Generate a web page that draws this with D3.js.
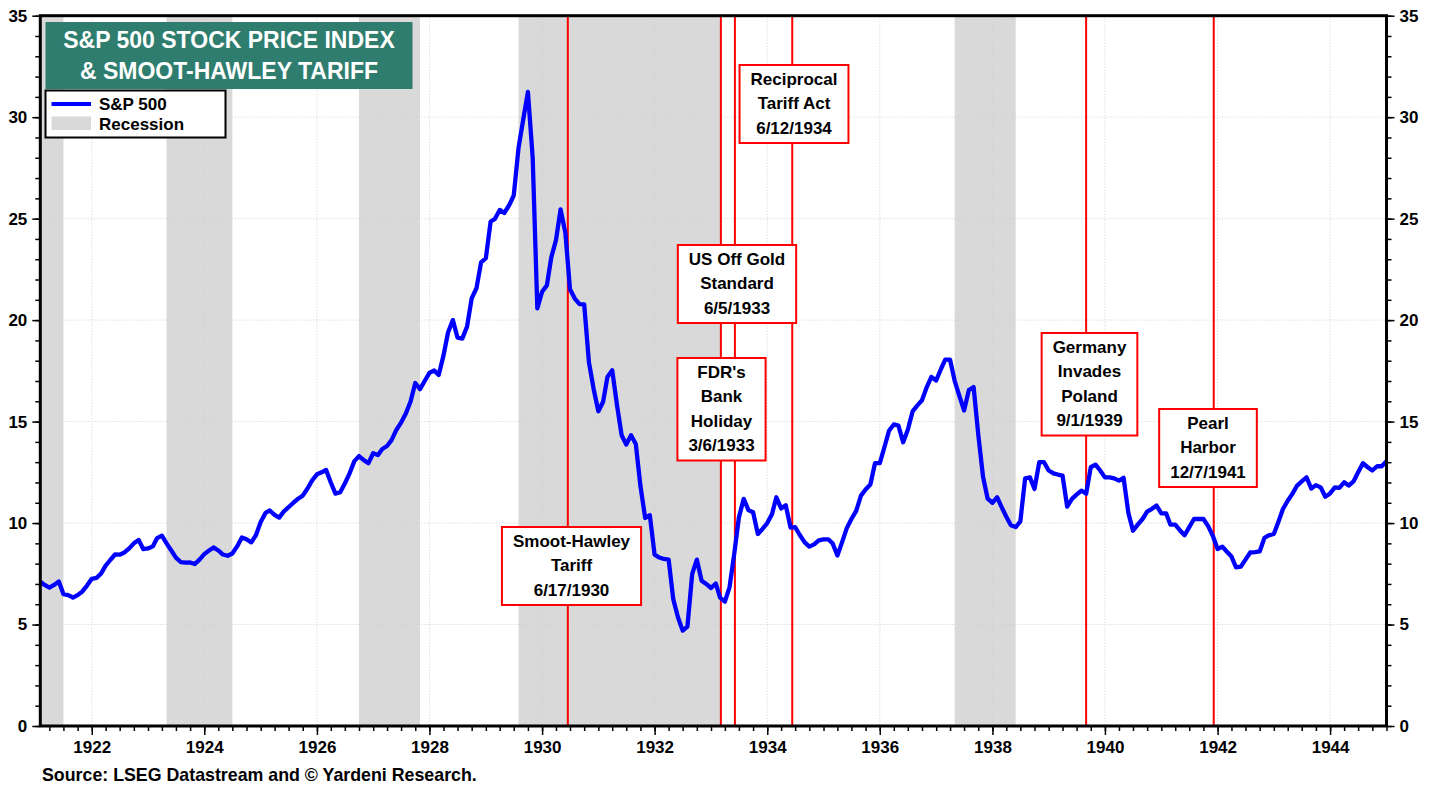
<!DOCTYPE html>
<html>
<head>
<meta charset="utf-8">
<script src="https://cdn.jsdelivr.net/npm/d3@7"></script>
<style>
  body { margin: 0; background: #fff; }
  svg text { font-family: "Liberation Sans", Arial, sans-serif; font-weight: bold; }
</style>
</head>
<body>
<svg id="chart" width="1439" height="789"></svg>
<script>
// monthly S&P 500 (Jan 1921 .. Dec 1944), plotted at month end
const spx = [
  7.11, 6.95, 6.82, 6.95, 7.12, 6.50, 6.45, 6.33, 6.45, 6.63, 6.92, 7.25,
  7.30, 7.50, 7.90, 8.18, 8.45, 8.44, 8.55, 8.75, 9.00, 9.17, 8.72, 8.75,
  8.85, 9.26, 9.38, 9.00, 8.65, 8.30, 8.08, 8.05, 8.06, 7.98, 8.20, 8.47,
  8.65, 8.80, 8.65, 8.45, 8.39, 8.50, 8.85, 9.29, 9.20, 9.05, 9.40, 10.05,
  10.50, 10.62, 10.40, 10.27, 10.58, 10.78, 11.00, 11.20, 11.35, 11.70, 12.10, 12.40,
  12.50, 12.62, 12.00, 11.45, 11.52, 11.95, 12.45, 13.05, 13.30, 13.10, 12.95, 13.44,
  13.35, 13.65, 13.80, 14.10, 14.60, 14.95, 15.40, 16.00, 16.90, 16.60, 17.00, 17.40,
  17.52, 17.30, 18.25, 19.40, 20.00, 19.14, 19.09, 19.68, 21.07, 21.57, 22.85, 23.05,
  24.86, 24.99, 25.43, 25.28, 25.66, 26.14, 28.48, 29.90, 31.25, 27.99, 20.58, 21.40,
  21.71, 23.07, 23.94, 25.46, 24.30, 21.52, 21.06, 20.79, 20.78, 17.92, 16.62, 15.51,
  15.98, 17.20, 17.53, 15.86, 14.33, 13.87, 14.33, 13.90, 11.83, 10.25, 10.39, 8.44,
  8.30, 8.23, 8.20, 6.25, 5.35, 4.70, 4.90, 7.50, 8.20, 7.16, 7.00, 6.80,
  7.02, 6.33, 6.13, 6.83, 8.50, 10.28, 11.19, 10.64, 10.53, 9.46, 9.71, 10.00,
  10.45, 11.27, 10.72, 10.88, 9.78, 9.80, 9.40, 9.05, 8.84, 8.95, 9.15, 9.20,
  9.20, 9.00, 8.40, 9.05, 9.75, 10.20, 10.60, 11.35, 11.65, 11.90, 12.95, 12.95,
  13.76, 14.55, 14.86, 14.80, 13.98, 14.60, 15.50, 15.80, 16.05, 16.70, 17.20, 17.03,
  17.59, 18.05, 18.05, 17.01, 16.25, 15.55, 16.55, 16.70, 14.37, 12.28, 11.20, 11.00,
  11.27, 10.80, 10.31, 9.89, 9.80, 10.08, 12.20, 12.25, 11.68, 13.00, 13.00, 12.59,
  12.45, 12.39, 12.34, 10.81, 11.19, 11.40, 11.60, 11.44, 12.75, 12.88, 12.59, 12.25,
  12.25, 12.20, 12.09, 12.23, 10.50, 9.62, 9.92, 10.20, 10.56, 10.70, 10.86, 10.48,
  10.48, 9.92, 9.92, 9.65, 9.40, 9.80, 10.20, 10.20, 10.20, 9.85, 9.37, 8.72,
  8.84, 8.60, 8.35, 7.82, 7.85, 8.20, 8.55, 8.57, 8.60, 9.27, 9.40, 9.46,
  10.09, 10.69, 11.10, 11.44, 11.85, 12.05, 12.25, 11.70, 11.87, 11.76, 11.30, 11.46,
  11.76, 11.73, 12.01, 11.85, 12.05, 12.50, 12.95, 12.75, 12.59, 12.80, 12.80, 13.05
];

const recessions = [
  ['1920-01', '1921-07'], ['1923-05', '1924-07'], ['1926-10', '1927-11'],
  ['1929-08', '1933-03'], ['1937-05', '1938-06']
];

const events = [
  { date: '1930-06-17', lines: ['Smoot-Hawley', 'Tariff', '6/17/1930'] },
  { date: '1933-03-06', lines: ["FDR's", 'Bank', 'Holiday', '3/6/1933'] },
  { date: '1933-06-05', lines: ['US Off Gold', 'Standard', '6/5/1933'] },
  { date: '1934-06-12', lines: ['Reciprocal', 'Tariff Act', '6/12/1934'] },
  { date: '1939-09-01', lines: ['Germany', 'Invades', 'Poland', '9/1/1939'] },
  { date: '1941-12-07', lines: ['Pearl', 'Harbor', '12/7/1941'] }
];

// where each event label box sits (centre x, top y)
const boxPos = [
  { cx: 571.5, top: 527 }, { cx: 721.5, top: 358 }, { cx: 737, top: 245 },
  { cx: 794, top: 65 }, { cx: 1089.5, top: 333 }, { cx: 1208, top: 409 }
];

const yTicks = [0, 5, 10, 15, 20, 25, 30, 35];
const titleLines = ['S&P 500 STOCK PRICE INDEX', '& SMOOT-HAWLEY TARIFF'];
const legendItems = ['S&P 500', 'Recession'];
const source = 'Source: LSEG Datastream and \u00A9 Yardeni Research.';

const parseMonth = d3.timeParse('%Y-%m');
const parseDay = d3.timeParse('%Y-%m-%d');

const svg = d3.select('#chart');
const plotL = 40.3, plotR = 1386.5, plotT = 15.7, plotB = 726;

const x = d3.scaleTime()
  .domain([new Date(1921, 1, 1), new Date(1945, 0, 1)])
  .range([plotL, plotR]);
const y = d3.scaleLinear().domain([0, 35]).range([plotB, plotT]);

const series = spx.map((v, i) => ({ date: new Date(1921, i + 1, 1), value: v }));

svg.append('clipPath').attr('id', 'plot-clip')
  .append('rect')
  .attr('x', plotL).attr('y', plotT)
  .attr('width', plotR - plotL).attr('height', plotB - plotT);

const plot = svg.append('g').attr('clip-path', 'url(#plot-clip)');

// recession shading
plot.selectAll('rect.rec')
  .data(recessions)
  .enter()
  .append('rect')
  .attr('class', 'rec')
  .attr('x', d => x(parseMonth(d[0])))
  .attr('y', plotT)
  .attr('width', d => x(parseMonth(d[1])) - x(parseMonth(d[0])))
  .attr('height', plotB - plotT)
  .attr('fill', '#d9d9d9');

// dotted grid
plot.selectAll('line.hgrid')
  .data(yTicks.slice(1, -1))
  .enter()
  .append('line')
  .attr('x1', plotL).attr('x2', plotR)
  .attr('y1', d => y(d)).attr('y2', d => y(d))
  .attr('stroke', '#cfcfcf').attr('stroke-dasharray', '1,2');

plot.selectAll('line.vgrid')
  .data(x.ticks(d3.timeYear.every(2)))
  .enter()
  .append('line')
  .attr('x1', d => x(d)).attr('x2', d => x(d))
  .attr('y1', plotT).attr('y2', plotB)
  .attr('stroke', '#cfcfcf').attr('stroke-dasharray', '1,2');

// event lines
plot.selectAll('line.event')
  .data(events)
  .enter()
  .append('line')
  .attr('x1', d => x(parseDay(d.date))).attr('x2', d => x(parseDay(d.date)))
  .attr('y1', plotT).attr('y2', plotB)
  .attr('stroke', '#ff0000').attr('stroke-width', 2);

// S&P 500 line
plot.append('path')
  .datum(series)
  .attr('fill', 'none')
  .attr('stroke', '#0000ff')
  .attr('stroke-width', 4.3)
  .attr('stroke-linejoin', 'round')
  .attr('d', d3.line().x(d => x(d.date)).y(d => y(d.value)));

// event label boxes
const lineH = 24.5, padX = 11;
events.forEach((ev, i) => {
  const pos = boxPos[i];
  const g = svg.append('g');
  const rect = g.append('rect')
    .attr('fill', '#fff').attr('stroke', '#ff0000').attr('stroke-width', 2);
  const t = g.append('text')
    .attr('text-anchor', 'middle')
    .attr('font-size', 17)
    .attr('fill', '#000');
  t.selectAll('tspan')
    .data(ev.lines)
    .enter()
    .append('tspan')
    .attr('x', pos.cx)
    .attr('y', (d, j) => pos.top + 19.5 + j * lineH)
    .text(d => d);
  const w = d3.max(t.selectAll('tspan').nodes(), n => n.getComputedTextLength()) + padX * 2;
  rect.attr('x', pos.cx - w / 2).attr('y', pos.top)
    .attr('width', w).attr('height', ev.lines.length * lineH + 4.5);
});

// frame
svg.append('rect')
  .attr('x', plotL).attr('y', plotT)
  .attr('width', plotR - plotL).attr('height', plotB - plotT)
  .attr('fill', 'none').attr('stroke', '#000').attr('stroke-width', 3);

// axes
function styleAxis(g) {
  g.select('.domain').remove();
  g.selectAll('line').attr('stroke', '#000').attr('stroke-width', 1.5);
  g.selectAll('text').attr('font-size', 17).attr('fill', '#000');
}

const minorY = d3.range(0, 36);
svg.append('g').attr('transform', `translate(${plotL - 1},0)`)
  .call(d3.axisLeft(y).tickValues(minorY).tickSize(4).tickFormat(''))
  .call(styleAxis);
svg.append('g').attr('transform', `translate(${plotL - 1},0)`)
  .call(d3.axisLeft(y).tickValues(yTicks).tickSize(7).tickPadding(5).tickFormat(d3.format('d')))
  .call(styleAxis);
svg.append('g').attr('transform', `translate(${plotR + 1},0)`)
  .call(d3.axisRight(y).tickValues(minorY).tickSize(4).tickFormat(''))
  .call(styleAxis);
svg.append('g').attr('transform', `translate(${plotR + 1},0)`)
  .call(d3.axisRight(y).tickValues(yTicks).tickSize(7).tickPadding(5).tickFormat(d3.format('d')))
  .call(styleAxis);

svg.append('g').attr('transform', `translate(0,${plotB + 1})`)
  .call(d3.axisBottom(x).ticks(d3.timeMonth.every(3)).tickSize(4).tickFormat(''))
  .call(styleAxis);
svg.append('g').attr('transform', `translate(0,${plotB + 1})`)
  .call(d3.axisBottom(x).ticks(d3.timeYear.every(2)).tickSize(8).tickPadding(6).tickFormat(d3.timeFormat('%Y')))
  .call(styleAxis);

// title
svg.append('rect')
  .attr('x', 45.5).attr('y', 22).attr('width', 367).attr('height', 67)
  .attr('fill', '#2e7d6f');
svg.append('text')
  .attr('text-anchor', 'middle')
  .attr('font-size', 23)
  .attr('fill', '#fff')
  .selectAll('tspan')
  .data(titleLines)
  .enter()
  .append('tspan')
  .attr('x', 229)
  .attr('y', (d, i) => 47.5 + i * 31.5)
  .text(d => d);

// legend
const legend = svg.append('g');
legend.append('rect')
  .attr('x', 45.5).attr('y', 90.5).attr('width', 180).attr('height', 47)
  .attr('fill', '#fff').attr('stroke', '#000').attr('stroke-width', 2);
legend.append('line')
  .attr('x1', 51.5).attr('x2', 91).attr('y1', 104).attr('y2', 104)
  .attr('stroke', '#0000ff').attr('stroke-width', 4);
legend.append('rect')
  .attr('x', 51.5).attr('y', 116.5).attr('width', 39.5).attr('height', 13.5)
  .attr('fill', '#d9d9d9');
legend.selectAll('text')
  .data(legendItems)
  .enter()
  .append('text')
  .attr('x', 99)
  .attr('y', (d, i) => 110 + i * 19.5)
  .attr('font-size', 17)
  .text(d => d);

// source
svg.append('text')
  .attr('x', 42).attr('y', 781)
  .attr('font-size', 17.8)
  .text(source);
</script>
</body>
</html>
